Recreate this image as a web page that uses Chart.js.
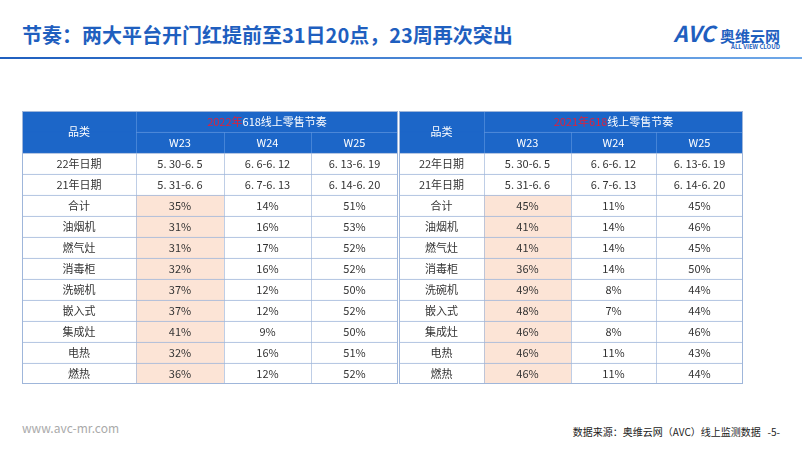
<!DOCTYPE html><html><head><meta charset="utf-8">
<script src="https://cdn.jsdelivr.net/npm/chart.js@4"></script>
<style>
body{margin:0;width:802px;height:451px;background:#fff;position:relative;font-family:"Noto Sans CJK SC","Noto Sans",sans-serif;overflow:hidden}
.t{position:absolute;left:22px;top:20px;font-size:20px;font-weight:bold;color:#1F5FBF}
.line{position:absolute;left:0;top:57px;width:802px;height:2px;background:linear-gradient(90deg,#1F5FBF,#6fa8e8)}
.logo{position:absolute;right:22px;top:16px;color:#1F5FBF;font-weight:bold;font-size:22px;font-style:italic}
.logo span{font-size:15px;font-style:normal}
.logo small{position:absolute;right:0;top:26px;font-size:6px;font-style:normal;color:#1F5FBF}
.ft{position:absolute;left:22px;top:419px;font-size:12px;color:#aaa}
.src{position:absolute;right:22px;top:424px;font-size:10px;color:#222}
.c{position:absolute}
</style></head><body>
<div class="t">节奏：两大平台开门红提前至31日20点，23周再次突出</div>
<div class="line"></div>
<div class="logo">AVC <span>奥维云网</span><small>ALL VIEW CLOUD</small></div>
<div class="c" style="left:22px;top:111px;width:376px;height:273px"><canvas id="c1"></canvas></div>
<div class="c" style="left:399px;top:111px;width:344px;height:273px"><canvas id="c2"></canvas></div>
<div class="ft">www.avc-mr.com</div>
<div class="src">数据来源：奥维云网（AVC）线上监测数据&nbsp;&nbsp;&nbsp;-5-</div>
<script>
const categories=['合计','油烟机','燃气灶','消毒柜','洗碗机','嵌入式','集成灶','电热','燃热'];
const weeks=['W23','W24','W25'];
const dates22=['5. 30-6. 5','6. 6-6. 12','6. 13-6. 19'];
const dates21=['5. 31-6. 6','6. 7-6. 13','6. 14-6. 20'];
const leftW23=[35,31,31,32,37,37,41,32,36];
const leftW24=[14,16,17,16,12,12,9,16,12];
const leftW25=[51,53,52,52,50,52,50,51,52];
const rightW23=[45,41,41,36,49,48,46,46,46];
const rightW24=[11,14,14,14,8,7,8,11,11];
const rightW25=[45,46,45,50,44,44,46,43,44];
const leftTitle=['2022年','618线上零售节奏'];
const rightTitle=['2021年618','线上零售节奏'];

function makeTable(id,cols,vals,title){
  const rows=['h1','h2','22年日期','21年日期',...categories];
  const BLUE='#1C66C8',PINK='#FCE4D6';
  const ds=[];
  for(let c=0;c<4;c++){
    const data=[],bg=[],txt=[],bc=[];
    rows.forEach((r,i)=>{
      let d=[cols[c],cols[c+1]],b='#fff',t='',k='#9FB6DA';
      if(i===0){ if(c===0){b=BLUE;k=BLUE;} else if(c===1){d=[cols[1],cols[4]];b=BLUE;t='TITLE';k='#5B93DE';} else d=null; }
      else if(i===1){b=BLUE;k=c===0?BLUE:'#5B93DE';t=c===0?'':weeks[c-1];}
      else if(i===2){t=c===0?'22年日期':dates22[c-1];}
      else if(i===3){t=c===0?'21年日期':dates21[c-1];}
      else {t=c===0?r:vals[c-1][i-4]+'%'; if(c===1)b=PINK;}
      data.push(d);bg.push(b);txt.push(t);bc.push(k);
    });
    ds.push({data,backgroundColor:bg,borderColor:bc,borderWidth:{top:1,bottom:0,left:1,right:0},borderSkipped:false,barPercentage:1,categoryPercentage:1,grouped:false,txt});
  }
  const plug={id:'txt',afterDatasetsDraw(ch){
    const ctx=ch.ctx;ctx.save();ctx.textAlign='center';ctx.textBaseline='middle';
    ch.data.datasets.forEach((d,di)=>{const m=ch.getDatasetMeta(di);
      m.data.forEach((el,i)=>{const t=d.txt[i];if(!t||!d.data[i])return;
        const x=(el.x+el.base)/2,y=el.y;
        ctx.font='11px "Noto Sans CJK SC"';
        if(t==='TITLE'){const w1=ctx.measureText(title[0]).width,w2=ctx.measureText(title[1]).width;
          let sx=x-(w1+w2)/2;ctx.textAlign='left';ctx.fillStyle='#E0203A';ctx.fillText(title[0],sx,y);ctx.fillStyle='#fff';ctx.fillText(title[1],sx+w1,y);ctx.textAlign='center';}
        else {ctx.fillStyle=i<2?'#fff':'#333';ctx.fillText(t,x,y);}
      });});
    const m0=ch.getDatasetMeta(0).data;ctx.fillStyle='#fff';
    ctx.fillText('品类',(m0[0].x+m0[0].base)/2,(m0[0].y+m0[1].y)/2);
    const a=ch.chartArea;ctx.strokeStyle='#9FB6DA';ctx.strokeRect(a.left+0.5,a.top+0.5,a.width-1,a.height-1);
    ctx.restore();}};
  new Chart(document.getElementById(id),{type:'bar',data:{labels:rows,datasets:ds},plugins:[plug],
    options:{indexAxis:'y',responsive:true,maintainAspectRatio:false,animation:false,layout:{padding:0},
      plugins:{legend:{display:false},tooltip:{enabled:false}},
      scales:{x:{type:'linear',min:0,max:cols[4],display:false},y:{display:false}}}});
}
makeTable('c1',[0,114,202,289,376],[leftW23,leftW24,leftW25],leftTitle);
makeTable('c2',[0,85,172,257,344],[rightW23,rightW24,rightW25],rightTitle);
</script></body></html>
